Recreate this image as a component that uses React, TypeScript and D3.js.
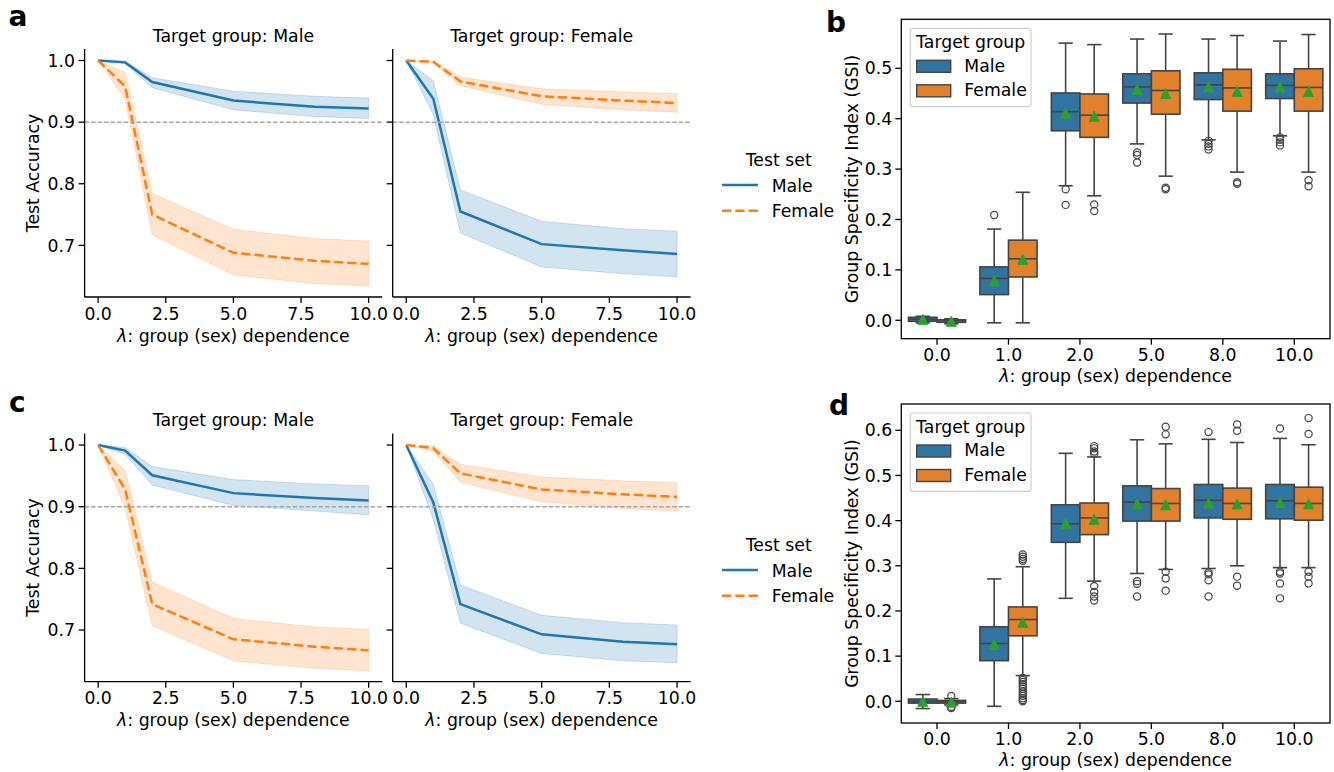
import React from "react";
import * as d3 from "d3";

// ---------------- DATA ----------------
const lambdas = [0, 1, 2, 5, 8, 10];
const lineXTicks = [0, 2.5, 5, 7.5, 10];
const accTicks = [0.7, 0.8, 0.9, 1.0];
const accThreshold = 0.9;
const accLimits = [0.6162, 1.0187];

// Panel a, target group Male
const aMaleT_maleMean = [1.0, 0.997, 0.965, 0.935, 0.925, 0.922];
const aMaleT_maleLo = [1.0, 0.995, 0.956, 0.920, 0.909, 0.906];
const aMaleT_maleHi = [1.0, 0.999, 0.972, 0.950, 0.942, 0.939];
const aMaleT_femMean = [1.0, 0.958, 0.750, 0.688, 0.675, 0.670];
const aMaleT_femLo = [1.0, 0.937, 0.717, 0.652, 0.638, 0.634];
const aMaleT_femHi = [1.0, 0.981, 0.784, 0.726, 0.711, 0.707];
// Panel a, target group Female
const aFemT_femMean = [1.0, 0.998, 0.966, 0.942, 0.935, 0.931];
const aFemT_femLo = [1.0, 0.996, 0.959, 0.929, 0.920, 0.916];
const aFemT_femHi = [1.0, 0.999, 0.973, 0.954, 0.949, 0.946];
const aFemT_maleMean = [1.0, 0.938, 0.755, 0.702, 0.692, 0.686];
const aFemT_maleLo = [1.0, 0.912, 0.720, 0.665, 0.654, 0.649];
const aFemT_maleHi = [1.0, 0.967, 0.790, 0.739, 0.727, 0.723];

// Panel c, target group Male
const cMaleT_maleMean = [1.0, 0.991, 0.951, 0.922, 0.914, 0.910];
const cMaleT_maleLo = [1.0, 0.985, 0.935, 0.902, 0.893, 0.887];
const cMaleT_maleHi = [1.0, 0.996, 0.965, 0.944, 0.937, 0.934];
const cMaleT_femMean = [1.0, 0.928, 0.742, 0.685, 0.673, 0.667];
const cMaleT_femLo = [1.0, 0.898, 0.707, 0.650, 0.638, 0.634];
const cMaleT_femHi = [1.0, 0.959, 0.778, 0.719, 0.705, 0.701];
// Panel c, target group Female
const cFemT_femMean = [1.0, 0.995, 0.954, 0.928, 0.920, 0.916];
const cFemT_femLo = [1.0, 0.990, 0.940, 0.908, 0.897, 0.893];
const cFemT_femHi = [1.0, 0.999, 0.969, 0.948, 0.942, 0.939];
const cFemT_maleMean = [1.0, 0.907, 0.742, 0.693, 0.681, 0.677];
const cFemT_maleLo = [1.0, 0.879, 0.711, 0.662, 0.650, 0.647];
const cFemT_maleHi = [1.0, 0.936, 0.773, 0.724, 0.712, 0.708];

// Box plots: [whiskerLow, q1, median, q3, whiskerHigh, mean]
const gsiCategories = ["0.0", "1.0", "2.0", "5.0", "8.0", "10.0"];
const groups = ["Male", "Female"];
const bTicks = [0, 0.1, 0.2, 0.3, 0.4, 0.5];
const bLimits = [-0.0365, 0.5972];
const dTicks = [0, 0.1, 0.2, 0.3, 0.4, 0.5, 0.6];
const dLimits = [-0.048, 0.6582];

const bMaleStats = [
  [-0.005, -0.002, 0.002, 0.006, 0.008, 0.002],
  [-0.005, 0.051, 0.083, 0.106, 0.181, 0.078],
  [0.267, 0.376, 0.414, 0.451, 0.55, 0.411],
  [0.35, 0.431, 0.463, 0.489, 0.558, 0.458],
  [0.358, 0.438, 0.467, 0.491, 0.558, 0.463],
  [0.366, 0.44, 0.466, 0.489, 0.554, 0.463],
];
const bMaleOutliers = [[], [0.209], [0.26, 0.229], [0.333, 0.328, 0.313], [0.356, 0.35, 0.345, 0.339], [0.363, 0.358, 0.353, 0.347]];
const bFemaleStats = [
  [-0.007, -0.004, -0.001, 0.001, 0.003, -0.002],
  [-0.005, 0.086, 0.122, 0.159, 0.254, 0.121],
  [0.247, 0.363, 0.407, 0.449, 0.547, 0.405],
  [0.286, 0.409, 0.456, 0.495, 0.568, 0.45],
  [0.294, 0.415, 0.461, 0.498, 0.565, 0.454],
  [0.294, 0.415, 0.462, 0.499, 0.567, 0.454],
];
const bFemaleOutliers = [[], [], [0.23, 0.217], [0.263, 0.26], [0.274, 0.271], [0.278, 0.266]];

const dMaleStats = [
  [-0.016, -0.004, 0.0, 0.005, 0.015, 0.0],
  [-0.011, 0.09, 0.128, 0.165, 0.271, 0.126],
  [0.228, 0.352, 0.393, 0.435, 0.549, 0.394],
  [0.283, 0.399, 0.441, 0.477, 0.579, 0.437],
  [0.294, 0.406, 0.445, 0.48, 0.58, 0.439],
  [0.296, 0.404, 0.444, 0.48, 0.582, 0.44],
];
const dMaleOutliers = [[], [], [], [0.266, 0.26, 0.232], [0.596, 0.285, 0.281, 0.268, 0.232], [0.604, 0.287, 0.283, 0.261, 0.228]];
const dFemaleStats = [
  [-0.008, -0.004, -0.001, 0.002, 0.006, -0.002],
  [0.057, 0.145, 0.181, 0.209, 0.298, 0.175],
  [0.266, 0.369, 0.406, 0.439, 0.541, 0.403],
  [0.292, 0.399, 0.438, 0.471, 0.57, 0.435],
  [0.3, 0.403, 0.438, 0.472, 0.573, 0.437],
  [0.296, 0.401, 0.438, 0.474, 0.568, 0.437],
];
const dFemaleOutliers = [
  [0.012, -0.012, -0.015],
  [0.325, 0.32, 0.315, 0.311, 0.052, 0.047, 0.043, 0.038, 0.033, 0.028, 0.022, 0.017, 0.012, 0.007, 0.003, 0.0],
  [0.565, 0.56, 0.553, 0.548, 0.255, 0.242, 0.232, 0.223],
  [0.608, 0.591, 0.287, 0.272, 0.245],
  [0.613, 0.599, 0.276, 0.256],
  [0.627, 0.592, 0.287, 0.276, 0.261],
];

// ---------------- STYLE ----------------
const FONT = "'DejaVu Sans', sans-serif";
const FS = 17.3;
const BLUE = "#1f77b4";
const ORANGE = "#ff7f0e";
const BOX_BLUE = "#3274a1";
const BOX_ORANGE = "#e1812c";
const GREEN = "#2ca02c";
const BOX_LINE = "#444444";
const TICK = 6;
const SPINE_W = 1.3;
const XLABEL_SYMBOL = "λ";
const XLABEL_REST = ": group (sex) dependence";

function XLabel({ x, y }: { x: number; y: number }) {
  return (
    <text x={x} y={y} textAnchor="middle" fontSize={FS} fontFamily={FONT}>
      <tspan fontStyle="italic">{XLABEL_SYMBOL}</tspan>
      {XLABEL_REST}
    </text>
  );
}

type Series = { mean: number[]; lo: number[]; hi: number[] };

function LinePanel(props: {
  left: number; right: number; top: number; bottom: number; title: string;
  male: Series; female: Series; showYLabels: boolean;
}) {
  const { left, right, top, bottom, title, male, female, showYLabels } = props;
  const x = d3.scaleLinear().domain([-0.5, 10.5]).range([left, right]);
  const y = d3.scaleLinear().domain(accLimits).range([bottom, top]);
  const area = (s: Series) =>
    d3.area<number>().x((_, i) => x(lambdas[i])).y0((_, i) => y(s.lo[i])).y1((_, i) => y(s.hi[i]))(lambdas) || "";
  const line = (vals: number[]) =>
    d3.line<number>().x((_, i) => x(lambdas[i])).y((v) => y(v))(vals) || "";
  return (
    <g>
      <path d={line(male.mean)} fill="none" stroke={BLUE} strokeWidth={2.5} />
      <path d={area(male)} fill={BLUE} fillOpacity={0.2} stroke={BLUE} strokeOpacity={0.2} strokeWidth={1} />
      <path d={line(female.mean)} fill="none" stroke={ORANGE} strokeWidth={2.5} strokeDasharray="9.3,4" />
      <path d={area(female)} fill={ORANGE} fillOpacity={0.2} stroke={ORANGE} strokeOpacity={0.2} strokeWidth={1} />
      <line x1={left} x2={right} y1={y(accThreshold)} y2={y(accThreshold)} stroke="#a6a6a6" strokeWidth={1.5} strokeDasharray="4.5,2" />
      {/* spines */}
      <line x1={left} x2={left} y1={top} y2={bottom} stroke="#000" strokeWidth={SPINE_W} />
      <line x1={left} x2={right} y1={bottom} y2={bottom} stroke="#000" strokeWidth={SPINE_W} />
      {accTicks.map((t) => (
        <g key={"y" + t}>
          <line x1={left - TICK} x2={left} y1={y(t)} y2={y(t)} stroke="#000" strokeWidth={SPINE_W} />
          {showYLabels && (
            <text x={left - 9.5} y={y(t) + 6.2} textAnchor="end" fontSize={FS} fontFamily={FONT}>{t.toFixed(1)}</text>
          )}
        </g>
      ))}
      {lineXTicks.map((t) => (
        <g key={"x" + t}>
          <line x1={x(t)} x2={x(t)} y1={bottom} y2={bottom + TICK} stroke="#000" strokeWidth={SPINE_W} />
          <text x={x(t)} y={bottom + 22.5} textAnchor="middle" fontSize={FS} fontFamily={FONT}>{t.toFixed(1)}</text>
        </g>
      ))}
      <text x={(left + right) / 2} y={top - 7.3} textAnchor="middle" fontSize={FS} fontFamily={FONT}>{title}</text>
      <XLabel x={(left + right) / 2} y={bottom + 44.5} />
      {showYLabels && (
        <text transform={`translate(38.9,${(top + bottom) / 2}) rotate(-90)`} textAnchor="middle" fontSize={FS} fontFamily={FONT}>Test Accuracy</text>
      )}
    </g>
  );
}

function TestSetLegend({ top }: { top: number }) {
  return (
    <g fontFamily={FONT} fontSize={FS}>
      <text x={778.7} y={top} textAnchor="middle">Test set</text>
      <line x1={722} x2={758} y1={top + 19.3} y2={top + 19.3} stroke={BLUE} strokeWidth={2.5} />
      <text x={771.7} y={top + 26}>{groups[0]}</text>
      <line x1={722} x2={758} y1={top + 45} y2={top + 45} stroke={ORANGE} strokeWidth={2.5} strokeDasharray="9.3,4" />
      <text x={771.7} y={top + 51.6}>{groups[1]}</text>
    </g>
  );
}

function BoxPanel(props: {
  left: number; right: number; top: number; bottom: number; limits: number[]; ticks: number[];
  maleStats: number[][]; maleOut: number[][]; femStats: number[][]; femOut: number[][];
}) {
  const { left, right, top, bottom, limits, ticks, maleStats, maleOut, femStats, femOut } = props;
  const x = d3.scaleBand().domain(gsiCategories).range([left, right]).padding(0);
  const y = d3.scaleLinear().domain(limits).range([bottom, top]);
  const step = x.bandwidth();
  const bw = step * 0.4;
  const hue = d3.scaleOrdinal<string, string>().domain(groups).range([BOX_BLUE, BOX_ORANGE]);
  const tri = (cx: number, cy: number) => `M${cx},${cy - 5}L${cx + 5},${cy + 5}L${cx - 5},${cy + 5}Z`;

  const drawBox = (cat: string, i: number, g: string, stats: number[], outs: number[]) => {
    const c = (x(cat) as number) + step / 2;
    const x0 = g === groups[0] ? c - bw : c;
    const mid = x0 + bw / 2;
    const [wlo, q1, med, q3, whi, mean] = stats;
    const cap = bw / 2;
    return (
      <g key={g + i}>
        <line x1={mid} x2={mid} y1={y(q3)} y2={y(whi)} stroke={BOX_LINE} strokeWidth={1.6} />
        <line x1={mid} x2={mid} y1={y(q1)} y2={y(wlo)} stroke={BOX_LINE} strokeWidth={1.6} />
        <line x1={mid - cap / 2} x2={mid + cap / 2} y1={y(whi)} y2={y(whi)} stroke={BOX_LINE} strokeWidth={1.6} />
        <line x1={mid - cap / 2} x2={mid + cap / 2} y1={y(wlo)} y2={y(wlo)} stroke={BOX_LINE} strokeWidth={1.6} />
        <rect x={x0} y={y(q3)} width={bw} height={Math.max(0.5, y(q1) - y(q3))} fill={hue(g)} stroke={BOX_LINE} strokeWidth={1.6} />
        <line x1={x0} x2={x0 + bw} y1={y(med)} y2={y(med)} stroke={BOX_LINE} strokeWidth={1.6} />
        {outs.map((o, k) => (
          <circle key={k} cx={mid} cy={y(o)} r={3.6} fill="none" stroke={BOX_LINE} strokeWidth={1.2} />
        ))}
        <path d={tri(mid, y(mean))} fill={GREEN} stroke={GREEN} strokeWidth={1} />
      </g>
    );
  };

  return (
    <g>
      {gsiCategories.map((cat, i) => drawBox(cat, i, groups[0], maleStats[i], maleOut[i]))}
      {gsiCategories.map((cat, i) => drawBox(cat, i, groups[1], femStats[i], femOut[i]))}
      <rect x={left} y={top} width={right - left} height={bottom - top} fill="none" stroke="#000" strokeWidth={SPINE_W} />
      {ticks.map((t) => (
        <g key={"y" + t}>
          <line x1={left - TICK} x2={left} y1={y(t)} y2={y(t)} stroke="#000" strokeWidth={SPINE_W} />
          <text x={left - 9} y={y(t) + 6.2} textAnchor="end" fontSize={FS} fontFamily={FONT}>{t.toFixed(1)}</text>
        </g>
      ))}
      {gsiCategories.map((cat) => {
        const cx = (x(cat) as number) + step / 2;
        return (
          <g key={"x" + cat}>
            <line x1={cx} x2={cx} y1={bottom} y2={bottom + TICK} stroke="#000" strokeWidth={SPINE_W} />
            <text x={cx} y={bottom + 22.2} textAnchor="middle" fontSize={FS} fontFamily={FONT}>{cat}</text>
          </g>
        );
      })}
      <XLabel x={(left + right) / 2} y={bottom + 43.3} />
      <text transform={`translate(857.7,${(top + bottom) / 2}) rotate(-90)`} textAnchor="middle" fontSize={FS} fontFamily={FONT}>Group Specificity Index (GSI)</text>
      {/* legend */}
      <g fontFamily={FONT} fontSize={FS}>
        <rect x={910.3} y={top + 9} width={120.7} height={78.4} rx={3} fill="#fff" fillOpacity={0.8} stroke="#d0d0d0" strokeWidth={1.2} />
        <text x={970.7} y={top + 29} textAnchor="middle">Target group</text>
        <rect x={916.7} y={top + 41} width={34} height={12} fill={hue(groups[0])} stroke={BOX_LINE} strokeWidth={1.4} />
        <text x={964.3} y={top + 52.4}>{groups[0]}</text>
        <rect x={916.7} y={top + 65.5} width={34} height={12} fill={hue(groups[1])} stroke={BOX_LINE} strokeWidth={1.4} />
        <text x={964.3} y={top + 76.7}>{groups[1]}</text>
      </g>
    </g>
  );
}

export default function App() {
  const LA = { left: 84.6, right: 382.2 };
  const RA = { left: 392.7, right: 690.6 };
  return (
    <svg width={1334} height={772} style={{ position: "absolute", left: 0, top: 0, background: "#fff" }}>
      <rect x={0} y={0} width={1334} height={772} fill="#fff" />
      {/* Panel a */}
      <LinePanel {...LA} top={49} bottom={297} title="Target group: Male" showYLabels
        male={{ mean: aMaleT_maleMean, lo: aMaleT_maleLo, hi: aMaleT_maleHi }}
        female={{ mean: aMaleT_femMean, lo: aMaleT_femLo, hi: aMaleT_femHi }} />
      <LinePanel {...RA} top={49} bottom={297} title="Target group: Female" showYLabels={false}
        male={{ mean: aFemT_maleMean, lo: aFemT_maleLo, hi: aFemT_maleHi }}
        female={{ mean: aFemT_femMean, lo: aFemT_femLo, hi: aFemT_femHi }} />
      <TestSetLegend top={165.7} />
      {/* Panel c */}
      <LinePanel {...LA} top={433.5} bottom={681.7} title="Target group: Male" showYLabels
        male={{ mean: cMaleT_maleMean, lo: cMaleT_maleLo, hi: cMaleT_maleHi }}
        female={{ mean: cMaleT_femMean, lo: cMaleT_femLo, hi: cMaleT_femHi }} />
      <LinePanel {...RA} top={433.5} bottom={681.7} title="Target group: Female" showYLabels={false}
        male={{ mean: cFemT_maleMean, lo: cFemT_maleLo, hi: cFemT_maleHi }}
        female={{ mean: cFemT_femMean, lo: cFemT_femLo, hi: cFemT_femHi }} />
      <TestSetLegend top={550.7} />
      {/* Panel b */}
      <BoxPanel left={901.3} right={1330} top={19.3} bottom={338.7} limits={bLimits} ticks={bTicks}
        maleStats={bMaleStats} maleOut={bMaleOutliers} femStats={bFemaleStats} femOut={bFemaleOutliers} />
      {/* Panel d */}
      <BoxPanel left={901.3} right={1330} top={404} bottom={723} limits={dLimits} ticks={dTicks}
        maleStats={dMaleStats} maleOut={dMaleOutliers} femStats={dFemaleStats} femOut={dFemaleOutliers} />
      {/* Panel letters */}
      <g fontFamily={FONT} fontSize={28} fontWeight="bold">
        <text x={8.5} y={26}>a</text>
        <text x={826} y={31.5}>b</text>
        <text x={9} y={411.7}>c</text>
        <text x={829} y={415}>d</text>
      </g>
    </svg>
  );
}
